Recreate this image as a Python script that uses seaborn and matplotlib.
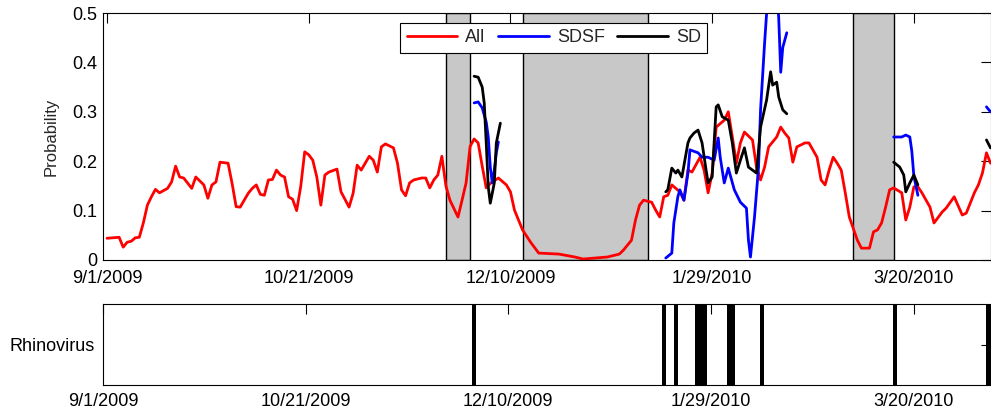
import numpy as np
import pandas as pd
import matplotlib
matplotlib.use("Agg")
import matplotlib.pyplot as plt
from matplotlib.lines import Line2D
import seaborn as sns

# ---------------- data ----------------
start_date = "2009-09-01"
tick_labels = ["9/1/2009", "10/21/2009", "12/10/2009", "1/29/2010", "3/20/2010"]
y_tick_values = [0, 0.1, 0.2, 0.3, 0.4, 0.5]
y_tick_labels = ["0", "0.1", "0.2", "0.3", "0.4", "0.5"]

series_names = ["All", "SDSF", "SD"]
series_colors = ["#ff0000", "#0000ff", "#000000"]

# days after 9/1/2009
all_day = [0, 3, 4, 5, 6, 7, 8, 9, 10, 11, 12, 13, 15, 16, 17, 18, 19, 21, 22, 24,
           25, 26, 27, 28, 30, 31, 32, 33, 35, 36, 37, 38, 39, 40, 41, 42, 43, 44, 45, 46,
           47, 48, 49, 50, 51, 52, 53, 54, 55, 57, 58, 60, 61, 62, 63, 65, 66, 67, 68, 69,
           71, 72, 73, 74, 75, 76, 78, 79, 80, 81, 82, 83, 84, 85, 87, 88, 89, 90, 91, 92,
           93, 94, 95, 97, 99, 100, 101, 103, 105, 107, 112, 116, 118, 124, 127, 128, 130, 131, 132, 133,
           135, 136, 137, 138, 139, 140, 142, 143, 144, 145, 147, 148, 149, 150, 151, 153, 154, 155, 156, 157,
           158, 160, 161, 162, 163, 164, 166, 167, 168, 169, 170, 171, 173, 174, 176, 177, 178, 179, 180, 181,
           182, 183, 184, 186, 187, 189, 190, 191, 192, 193, 194, 195, 197, 198, 199, 200, 201, 202, 204, 205,
           207, 208, 210, 212, 213, 215, 216, 217, 218, 219]
all_prob = [.044, .046, .026, .036, .038, .045, .046, .075, .111, .128, .143, .136, .145, .158, .190, .168, .166, .145, .168, .152,
            .125, .152, .158, .198, .196, .155, .108, .107, .135, .145, .152, .133, .131, .162, .163, .182, .172, .168, .128, .123,
            .100, .148, .219, .213, .202, .168, .111, .172, .178, .184, .138, .107, .135, .192, .182, .210, .202, .178, .229, .235,
            .227, .196, .142, .130, .156, .162, .166, .166, .146, .162, .172, .210, .150, .121, .087, .121, .156, .230, .245, .237,
            .190, .146, .155, .166, .152, .138, .101, .061, .036, .014, .012, .006, .002, .006, .012, .020, .040, .081, .111, .121,
            .117, .101, .087, .128, .131, .152, .138, .121, .182, .178, .208, .182, .136, .176, .269, .283, .300, .249, .196, .237,
            .259, .243, .188, .162, .188, .229, .249, .269, .257, .247, .198, .229, .237, .237, .208, .162, .152, .182, .208, .196,
            .182, .136, .087, .040, .024, .024, .057, .061, .075, .107, .142, .146, .136, .081, .107, .148, .148, .136, .107, .075,
            .097, .105, .128, .091, .095, .136, .152, .176, .217, .196]

sdsf_day = [
    [91, 92, 93, 94, 94.5, 95, 95.5, 96, 96.5, 97],
    [138.5, 140, 140.5, 141.5, 142, 143, 144, 144.5, 146.5, 147.5, 149, 150.5, 151.5, 152, 153, 154,
     155.5, 157, 158.5, 159, 159.5, 160.5, 161.5, 162, 163, 164, 165.5, 166.5, 167, 167.5, 168.5],
    [195, 197, 198, 199, 199.5, 200, 201],
    [218, 219],
]
sdsf_prob = [
    [.318, .320, .308, .279, .249, .188, .156, .182, .217, .239],
    [.004, .014, .075, .128, .142, .121, .176, .223, .217, .208, .208, .202, .247, .208, .156, .186,
     .142, .117, .105, .040, .006, .087, .188, .304, .439, .560, .620, .490, .380, .430, .460],
    [.249, .249, .253, .249, .220, .170, .131],
    [.310, .300],
]

sd_day = [
    [91, 92, 93, 93.5, 94, 94.5, 95, 96, 96.5, 97.5],
    [138.5, 139, 140, 141, 141.5, 142.5, 144, 144.5, 145.5, 146.5, 147.5, 148.5, 149, 150, 151, 151.5,
     152.5, 154, 155, 156, 157, 158, 159, 160, 161, 162, 163.5, 164.5, 165, 166, 166.5, 167.5, 168.5],
    [195, 196.5, 197.5, 198, 199, 200, 201],
    [218, 219],
]
sd_prob = [
    [.372, .370, .350, .318, .237, .148, .115, .156, .237, .277],
    [.138, .142, .186, .176, .182, .168, .237, .247, .257, .263, .237, .182, .156, .168, .310, .314,
     .290, .283, .237, .176, .202, .227, .188, .182, .176, .269, .324, .381, .354, .360, .330, .304, .296],
    [.198, .188, .172, .138, .156, .172, .152],
    [.243, .227],
]

# shaded periods (days after 9/1/2009)
shade_start = [84, 103, 185]
shade_end = [90, 134, 195]

# rhinovirus detection days
rhino_day = [91, 138, 141, 146, 147, 148, 154, 155, 162, 195, 218]

# ---------------- build table ----------------
frames = [pd.DataFrame({"day": all_day, "prob": all_prob, "series": "All", "seg": "All-0"})]
for name, days, probs in [("SDSF", sdsf_day, sdsf_prob), ("SD", sd_day, sd_prob)]:
    for i, (d, p) in enumerate(zip(days, probs)):
        frames.append(pd.DataFrame({"day": d, "prob": p, "series": name, "seg": f"{name}-{i}"}))
df = pd.concat(frames, ignore_index=True)

tick_days = list((pd.to_datetime(tick_labels, format="%m/%d/%Y") - pd.Timestamp(start_date)).days)

# ---------------- style ----------------
sns.set_style("white")
plt.rcParams["font.family"] = ["Liberation Sans", "DejaVu Sans"]
plt.rcParams["axes.edgecolor"] = "black"
plt.rcParams["axes.linewidth"] = 0.8

W, H = 991, 413
fig = plt.figure(figsize=(W / 100, H / 100), dpi=100)
ax1 = fig.add_axes([103 / W, 1 - 260 / H, 887.5 / W, 247 / H])
ax2 = fig.add_axes([103 / W, 1 - 385 / H, 887.5 / W, 81 / H])

# top panel
for s, e in zip(shade_start, shade_end):
    ax1.axvspan(s, e, facecolor="#c8c8c8", edgecolor="black", linewidth=1, zorder=0.5)

palette = dict(zip(series_names, series_colors))
sns.lineplot(data=df, x="day", y="prob", hue="series", hue_order=series_names,
             palette=palette, units="seg", estimator=None, sort=False,
             linewidth=2, legend=False, ax=ax1)

ax1.set_xlim(-1, 219)
ax1.set_ylim(0, 0.5)
ax1.set_xticks(tick_days)
ax1.set_xticklabels(tick_labels)
ax1.set_yticks(y_tick_values)
ax1.set_yticklabels(y_tick_labels)
ax1.set_xlabel("")
ax1.set_ylabel("Probability", fontsize=12, labelpad=10)
ax1.tick_params(direction="in", top=True, right=True, length=7, width=0.8,
                labelsize=13, colors="black")
ax1.tick_params(axis="x", pad=7.5)
ax1.tick_params(axis="y", pad=4)

handles = [Line2D([], [], color=c, linewidth=2) for c in series_colors]
leg = ax1.legend(handles, series_names, loc="center", bbox_to_anchor=(0.508, 0.899),
                 ncol=3, fontsize=13, frameon=True, fancybox=False, framealpha=1,
                 edgecolor="black", handlelength=2.8, handletextpad=0.45,
                 columnspacing=0.7, borderpad=0.35)
leg.get_frame().set_linewidth(0.8)

# bottom panel
ax2.bar(rhino_day, 1, width=1.0, align="edge", color="black",
        linewidth=0, antialiased=False)
ax2.set_xlim(0, 219)
ax2.set_ylim(0, 1)
ax2.set_xticks(tick_days)
ax2.set_xticklabels(tick_labels)
ax2.set_yticks([0.5])
ax2.set_yticklabels(["Rhinovirus"])
ax2.tick_params(direction="in", top=True, right=True, length=7, width=0.8,
                labelsize=13, pad=6, colors="black")

fig.savefig("out.png", dpi=100)
